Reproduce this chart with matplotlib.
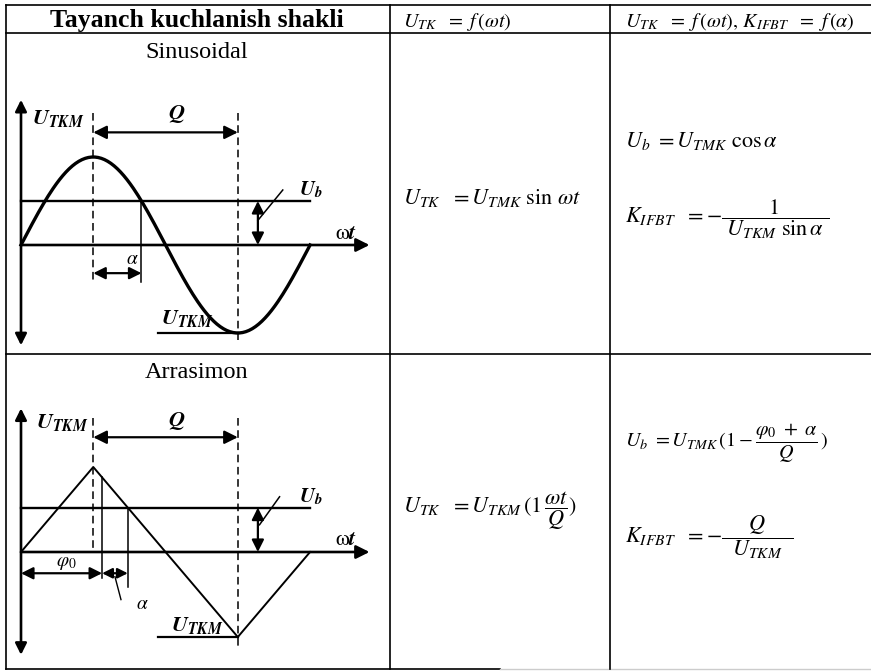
import numpy as np
import matplotlib
matplotlib.use("Agg")
from matplotlib import pyplot as plt

plt.rcParams['mathtext.fontset'] = 'stix'
plt.rcParams['font.family'] = ['Liberation Serif', 'DejaVu Serif']

# waveforms: phase in degrees, voltage in units of U_TKM
sin_phase = np.arange(0, 361, 2)
sin_value = np.sin(np.radians(sin_phase))
tri_phase = [0, 90, 270, 360]
tri_value = [0, 1, -1, 0]

peak_deg = 90
trough_deg = 270
sin_alpha = 60
sin_ub = np.cos(np.radians(sin_alpha))
tri_phi0 = 101
tri_alpha = 32
tri_ub = np.interp(tri_phi0 + tri_alpha, tri_phase, tri_value)

headers = ['Tayanch kuchlanish shakli',
           r'$U_{TK}\ \ =\ f\,(\omega t)$',
           r'$U_{TK}\ \ =\ f\,(\omega t),\,K_{IFBT}\ \ =\ f\,(\alpha)$']
row_names = ['Sinusoidal', 'Arrasimon']
col2_formulas = [r'$U_{TK}\ \ =U_{TMK}\ \sin\,\omega t$',
                 r'$U_{TK}\ \ =U_{TKM}\,(1\,\dfrac{\omega t}{Q})$']
col3_ub = [r'$U_b\ =U_{TMK}\ \cos\alpha$',
           r'$U_b\ =U_{TMK}\,(1-\dfrac{\varphi_0\ +\ \alpha}{Q}\,)$']
col3_k = [r'$K_{IFBT}\ \ =-\dfrac{1}{\ U_{TKM}\ \sin\alpha\ }$',
          r'$K_{IFBT}\ \ =-\dfrac{Q}{\ \ U_{TKM}\ \ }$']

W, H = 871, 671
fig = plt.figure(figsize=(W / 100, H / 100), dpi=100)

# table grid in pixel coords
tab = fig.add_axes([0, 0, 1, 1])
tab.set_xlim(0, W)
tab.set_ylim(H, 0)
tab.axis('off')
for y in [5, 33, 354]:
    tab.plot([6, W], [y, y], 'k', lw=1.2)
tab.plot([6, 500], [669, 669], 'k', lw=1.2)
tab.plot([500, W], [669, 669], color='0.8', lw=1.0)
for x in [6, 390, 610]:
    tab.plot([x, x], [5, 669], 'k', lw=1.2)

tab.text(197, 27, headers[0], ha='center', va='baseline', fontsize=18.5, fontweight='bold')
tab.text(403, 27, headers[1], ha='left', va='baseline', fontsize=14.5)
tab.text(625, 27, headers[2], ha='left', va='baseline', fontsize=14.5)
tab.text(197, 58, row_names[0], ha='center', va='baseline', fontsize=17.5)
tab.text(197, 378, row_names[1], ha='center', va='baseline', fontsize=17.5)
tab.text(403, 204, col2_formulas[0], ha='left', va='baseline', fontsize=16)
tab.text(403, 512, col2_formulas[1], ha='left', va='baseline', fontsize=16)
tab.text(625, 147, col3_ub[0], ha='left', va='baseline', fontsize=16)
tab.text(625, 222, col3_k[0], ha='left', va='baseline', fontsize=16)
tab.text(625, 448, col3_ub[1], ha='left', va='baseline', fontsize=14.5)
tab.text(625, 542, col3_k[1], ha='left', va='baseline', fontsize=16)


def diagram_axes(box, x0, sx, y0, sy):
    left, top, right, bottom = box
    ax = fig.add_axes([left / W, 1 - bottom / H, (right - left) / W, (bottom - top) / H])
    ax.set_xlim((left - x0) / sx, (right - x0) / sx)
    ax.set_ylim((y0 - bottom) / sy, (y0 - top) / sy)
    ax.axis('off')
    return ax


def arrow(ax, p0, p1, style='<|-|>', lw=1.6, ms=18):
    ax.annotate('', xy=p1, xytext=p0,
                arrowprops=dict(arrowstyle=style, color='k', lw=lw,
                                shrinkA=0, shrinkB=0, mutation_scale=ms))


dash = (0, (5, 3))
utkm = r'$\mathbfit{U}_{\mathbfit{TKM}}$'
ub = r'$\mathbfit{U}_{\mathbfit{b}}$'
wt = r'$\mathrm{\omega}\mathbfit{t}$'

# sinusoidal
ax = diagram_axes((6, 33, 390, 354), 21, 0.803, 245, 88)
ax.plot(sin_phase, sin_value, 'k', lw=2.4)
ax.plot([0, 360], [sin_ub, sin_ub], 'k', lw=1.7)
arrow(ax, (0, -1.14), (0, 1.65), lw=1.9, ms=17)
arrow(ax, (0, 0), (434, 0), style='-|>', lw=1.9, ms=20)
ax.plot([peak_deg, peak_deg], [1.5, -0.42], 'k', lw=1.1, ls=dash)
ax.plot([trough_deg, trough_deg], [1.5, -1.08], 'k', lw=1.1, ls=dash)
arrow(ax, (peak_deg, 1.28), (trough_deg, 1.28), ms=20)
ax.plot([peak_deg + sin_alpha] * 2, [sin_ub, -0.42], 'k', lw=1.1)
arrow(ax, (peak_deg, -0.32), (peak_deg + sin_alpha, -0.32), ms=18)
ax.plot([170, trough_deg], [-1, -1], 'k', lw=1.6)
arrow(ax, (295, sin_ub), (295, 0), ms=18)
ax.plot([295, 326], [0.28, 0.625], 'k', lw=1.1)
ax.text(47, 1.44, utkm, ha='center', va='center', fontsize=16)
ax.text(194, 1.49, r'$\mathbfit{Q}$', ha='center', va='center', fontsize=16)
ax.text(361, 0.62, ub, ha='center', va='center', fontsize=15)
ax.text(405, 0.12, wt, ha='center', va='center', fontsize=16)
ax.text(139, -0.17, r'$\alpha$', ha='center', va='center', fontsize=14)
ax.text(207, -0.83, utkm, ha='center', va='center', fontsize=16)

# triangular (arrasimon)
ax = diagram_axes((6, 354, 390, 669), 21, 0.803, 552, 85)
ax.plot(tri_phase, tri_value, 'k', lw=1.4)
ax.plot([0, 360], [tri_ub, tri_ub], 'k', lw=1.7)
arrow(ax, (0, -1.21), (0, 1.69), lw=1.9, ms=17)
arrow(ax, (0, 0), (434, 0), style='-|>', lw=1.9, ms=20)
ax.plot([peak_deg, peak_deg], [1.58, 0], 'k', lw=1.1, ls=dash)
ax.plot([trough_deg, trough_deg], [1.58, -1.15], 'k', lw=1.1, ls=dash)
arrow(ax, (peak_deg, 1.35), (trough_deg, 1.35), ms=20)
ax.plot([tri_phi0] * 2, [np.interp(tri_phi0, tri_phase, tri_value), -0.31], 'k', lw=1.1)
ax.plot([tri_phi0 + tri_alpha] * 2, [tri_ub, -0.41], 'k', lw=1.1)
arrow(ax, (0, -0.25), (tri_phi0, -0.25), ms=18)
arrow(ax, (tri_phi0, -0.25), (tri_phi0 + tri_alpha, -0.25), ms=15)
ax.plot([117, 124.5], [-0.29, -0.56], 'k', lw=1.0)
ax.plot([170, trough_deg], [-1, -1], 'k', lw=1.6)
arrow(ax, (295, tri_ub), (295, 0), ms=18)
ax.plot([297, 322], [0.32, 0.65], 'k', lw=1.1)
ax.text(51, 1.52, utkm, ha='center', va='center', fontsize=16)
ax.text(194, 1.54, r'$\mathbfit{Q}$', ha='center', va='center', fontsize=16)
ax.text(361, 0.65, ub, ha='center', va='center', fontsize=15)
ax.text(405, 0.13, wt, ha='center', va='center', fontsize=16)
ax.text(57, -0.13, r'$\varphi_0$', ha='center', va='center', fontsize=14)
ax.text(151, -0.62, r'$\alpha$', ha='center', va='center', fontsize=14)
ax.text(219, -0.86, utkm, ha='center', va='center', fontsize=16)

fig.savefig('out.png', dpi=100)
